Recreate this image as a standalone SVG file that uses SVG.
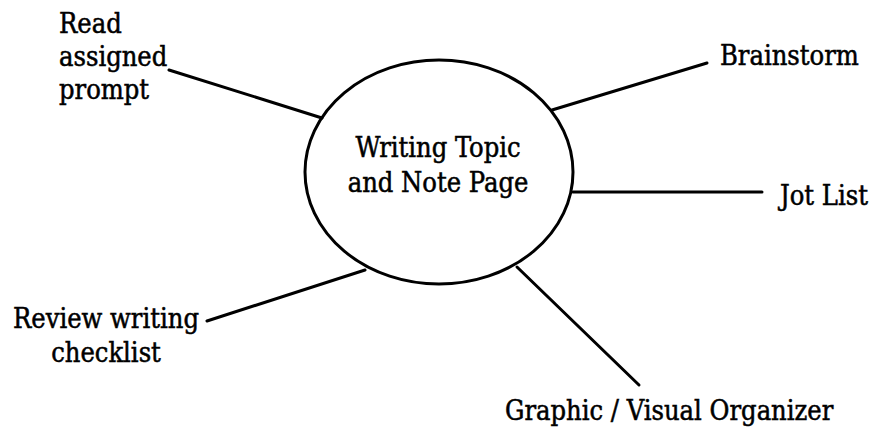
<svg xmlns="http://www.w3.org/2000/svg" width="876" height="433" viewBox="0 0 876 433">
<style>
text{font-family:'DejaVu Serif Condensed','DejaVu Serif',serif;font-stretch:condensed;font-size:27px;fill:#000;stroke:#000;stroke-width:0.5}
.c{stroke:#000;stroke-width:3;stroke-linecap:round;fill:none}
.m{text-anchor:middle}
</style>
<rect width="876" height="433" fill="#fff"/>
<g id="connectors">
<line class="c" x1="169" y1="70" x2="322" y2="118"/>
<line class="c" x1="552" y1="110" x2="707" y2="63"/>
<line class="c" x1="573" y1="192" x2="762" y2="192"/>
<line class="c" x1="207" y1="321" x2="365" y2="270"/>
<line class="c" x1="517" y1="267" x2="639" y2="385"/>
</g>
<g id="center">
<ellipse class="c" cx="439" cy="172" rx="134" ry="112"/>
<text class="m" x="438" y="157">Writing Topic</text>
<text class="m" x="438" y="192">and Note Page</text>
</g>
<g id="read">
<text x="59" y="33">Read</text>
<text x="59" y="66">assigned</text>
<text x="59" y="99">prompt</text>
</g>
<g id="brainstorm"><text x="720" y="65">Brainstorm</text></g>
<g id="jotlist"><text x="780" y="205">Jot List</text></g>
<g id="review">
<text class="m" x="106" y="328">Review writing</text>
<text class="m" x="106" y="362">checklist</text>
</g>
<g id="graphic"><text x="505" y="420">Graphic / Visual Organizer</text></g>
</svg>
